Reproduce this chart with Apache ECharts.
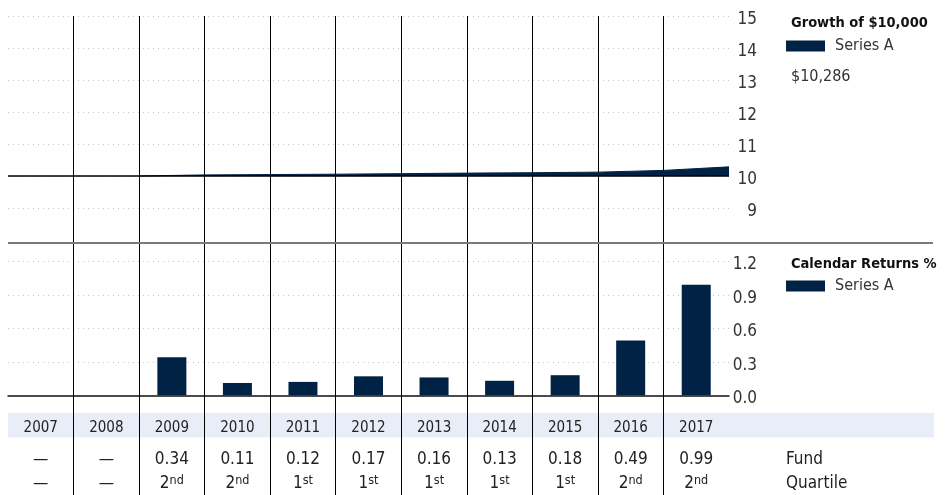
<!DOCTYPE html>
<html>
<head>
<meta charset="utf-8">
<title>Growth of $10,000 and Calendar Returns</title>
<script src="https://cdn.jsdelivr.net/npm/echarts@6/dist/echarts.min.js"></script>
<style>
  html, body { margin: 0; padding: 0; background: #ffffff; }
  #chart { width: 947px; height: 495px; }
</style>
</head>
<body>
<div id="chart"></div>
<script>
// Calendar years shown as columns
const years = ['2007', '2008', '2009', '2010', '2011', '2012', '2013', '2014', '2015', '2016', '2017'];

// Annual total return (%) per year; null = no history
const annualReturns = [null, null, 0.34, 0.11, 0.12, 0.17, 0.16, 0.13, 0.18, 0.49, 0.99];

// Peer-group quartile rank per year
const quartileRanks = [null, null, 2, 2, 1, 1, 1, 1, 1, 2, 2];

// Growth of $10,000 (in thousands) at each year boundary, from start of 2009 to end of 2017
const growthStartYear = '2009';
const growthValues = [10.000, 10.034, 10.045, 10.057, 10.074, 10.090, 10.103, 10.121, 10.175, 10.286];

// Tick settings
const growthTicks = { min: 8, max: 15, step: 1, base: 10 };
const returnTicks = { min: 0, max: 1.2, step: 0.3 };

const NAVY = '#002244';
const FONT = "'Liberation Sans Narrow', 'DejaVu Sans Condensed', 'Roboto', sans-serif";

const startIdx = years.indexOf(growthStartYear);
const growthData = growthValues.map((v, i) => [startIdx + i, v]);

const ordinal = n => n === 1 ? 'st' : n === 2 ? 'nd' : n === 3 ? 'rd' : 'th';
const fmtReturn = v => v == null ? '—' : v.toFixed(2);
const fmtQuartile = q => q == null ? '—' : q + '{sup|' + ordinal(q) + '}';
const lastGrowth = '$' + Math.round(growthValues[growthValues.length - 1] * 1000).toLocaleString('en-US');

const dotted = { color: '#c4c4c4', width: 1, type: [1, 4] };
const cellText = { fontFamily: FONT, color: '#222', fontSize: 17 };
// tick labels sit slightly below their grid line
const tickText = { fontFamily: FONT, fontSize: 17, color: '#333', margin: 28, align: 'right',
  verticalAlign: 'middle',
  rich: { t: { fontFamily: FONT, fontSize: 17, color: '#333', padding: [7, 0, 0, 0] } } };
const headText = { fontFamily: FONT, fontSize: 14.5, fontWeight: 'bold', color: '#111' };

const chart = echarts.init(document.getElementById('chart'), null, { renderer: 'canvas' });

chart.setOption({
  animation: false,
  textStyle: { fontFamily: FONT },
  title: [
    { text: 'Growth of $10,000', left: 786, top: 11, textStyle: headText },
    { text: lastGrowth, left: 786, top: 64,
      textStyle: { fontFamily: FONT, fontSize: 16, fontWeight: 'normal', color: '#333' } },
    { text: 'Calendar Returns %', left: 786, top: 252, textStyle: headText }
  ],
  legend: [
    { seriesIndex: 0, data: ['Series A'], left: 786, top: 38, padding: 0,
      icon: 'rect', itemWidth: 39, itemHeight: 11, selectedMode: false,
      textStyle: { fontFamily: FONT, fontSize: 16, color: '#333', padding: [0, 0, 0, 5] } },
    { data: ['Series A'], left: 786, top: 278, padding: 0,
      icon: 'rect', itemWidth: 39, itemHeight: 11, selectedMode: false,
      textStyle: { fontFamily: FONT, fontSize: 16, color: '#333', padding: [0, 0, 0, 5] } }
  ],
  grid: [
    { left: 8, top: 16, width: 721, height: 224 },
    { left: 8, top: 261.3, width: 721, height: 134 },
    { left: 8, top: 16, width: 721, height: 479 }
  ],
  xAxis: [
    // growth panel: continuous position across year columns
    { type: 'value', gridIndex: 0, min: 0, max: years.length, show: false },
    // returns panel + year row
    { type: 'category', gridIndex: 1, data: years, boundaryGap: true,
      axisLine: { show: true, lineStyle: { color: '#111', width: 1.5 } },
      axisTick: { show: false }, splitLine: { show: false },
      axisLabel: { ...cellText, fontSize: 15, margin: 33, verticalAlign: 'middle', interval: 0 } },
    // fund return row
    { type: 'category', gridIndex: 1, data: annualReturns.map(fmtReturn), position: 'bottom', offset: 64,
      axisLine: { show: false }, axisTick: { show: false },
      axisLabel: { ...cellText, margin: 0, verticalAlign: 'middle', interval: 0 },
      name: 'Fund', nameLocation: 'end', nameGap: 57,
      nameTextStyle: { ...cellText, align: 'left', verticalAlign: 'middle' } },
    // quartile row
    { type: 'category', gridIndex: 1, data: quartileRanks.map(fmtQuartile), position: 'bottom', offset: 88,
      axisLine: { show: false }, axisTick: { show: false },
      axisLabel: { ...cellText, margin: 0, verticalAlign: 'middle', interval: 0,
        rich: { sup: { fontFamily: FONT, fontSize: 12.5, color: '#222', verticalAlign: 'top', padding: [0, 0, 6, 0] } } },
      name: 'Quartile', nameLocation: 'end', nameGap: 57,
      nameTextStyle: { ...cellText, align: 'left', verticalAlign: 'middle' } },
    // column dividers running through every panel
    { type: 'value', gridIndex: 2, min: 0, max: years.length, interval: 1,
      axisLine: { show: false }, axisTick: { show: false }, axisLabel: { show: false },
      splitLine: { show: true, showMinLine: false, showMaxLine: false, lineStyle: { color: '#000', width: 1 } } }
  ],
  yAxis: [
    { type: 'value', gridIndex: 0, position: 'right', min: growthTicks.min, max: growthTicks.max, interval: growthTicks.step,
      axisLine: { show: false }, axisTick: { show: false },
      axisLabel: { ...tickText, formatter: v => v === growthTicks.min ? '' : '{t|' + v + '}' },
      splitLine: { show: true, showMinLine: false, lineStyle: dotted } },
    { type: 'value', gridIndex: 1, position: 'right', min: returnTicks.min, max: returnTicks.max, interval: returnTicks.step,
      axisLine: { show: false }, axisTick: { show: false },
      axisLabel: { ...tickText, formatter: v => '{t|' + v.toFixed(1) + '}' },
      splitLine: { show: true, showMinLine: false, lineStyle: dotted } },
    { type: 'value', gridIndex: 2, min: 0, max: 1, show: false }
  ],
  graphic: [
    // divider between the two panels
    { type: 'line', z: 5, shape: { x1: 8, y1: 243, x2: 933, y2: 243 },
      style: { stroke: '#7a7a7a', lineWidth: 2 } },
    // shaded year band
    { type: 'rect', z: -10, shape: { x: 8, y: 413, width: 926, height: 24.5 },
      style: { fill: '#e9edf7' } }
  ],
  series: [
    { name: 'Series A', type: 'line', xAxisIndex: 0, yAxisIndex: 0, data: growthData,
      color: NAVY, symbol: 'none', lineStyle: { width: 1, color: NAVY },
      areaStyle: { color: NAVY, opacity: 1, origin: growthTicks.base },
      markLine: { silent: true, symbol: 'none', label: { show: false },
        lineStyle: { color: '#000', width: 1.5, type: 'solid' },
        data: [{ yAxis: growthTicks.base }] },
      z: 3 },
    { name: 'Series A', type: 'bar', xAxisIndex: 1, yAxisIndex: 1, data: annualReturns,
      color: NAVY, barWidth: 29, itemStyle: { color: NAVY }, z: 3 }
  ]
});
</script>
</body>
</html>
